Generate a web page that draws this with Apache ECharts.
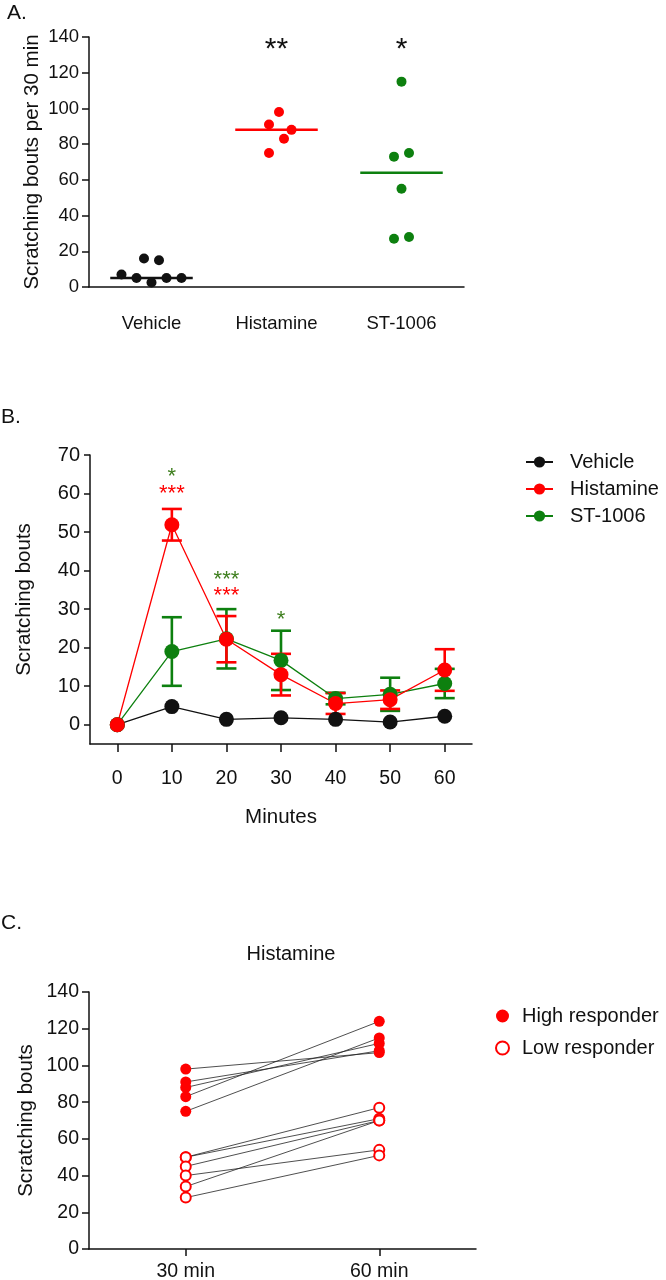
<!DOCTYPE html>
<html><head><meta charset="utf-8">
<script src="https://cdn.jsdelivr.net/npm/echarts@6/dist/echarts.min.js"></script>
<style>html,body{margin:0;padding:0;background:#fff}#c{width:666px;height:1280px}</style>
</head><body><div id="c"></div>
<script>
// ---------- Panel A ----------
const groupsA = ['Vehicle', 'Histamine', 'ST-1006'];
const vehicleA = [7, 5, 16, 2.5, 15, 5, 5];
const vehicleAJitter = [-0.24, -0.12, -0.06, 0, 0.06, 0.12, 0.24];
const histamineA = [98, 91, 88, 83, 75];
const histamineAJitter = [0.02, -0.06, 0.12, 0.06, -0.06];
const st1006A = [115, 73, 75, 55, 27, 28];
const st1006AJitter = [0, -0.06, 0.06, 0, -0.06, 0.06];
const mediansA = [5, 88, 64];
const starsA = ['', '**', '*'];
const starsAY = [0, 137, 137];
const ticksA = [0, 20, 40, 60, 80, 100, 120, 140];

// ---------- Panel B ----------
const minutesB = [0, 10, 20, 30, 40, 50, 60];
const vehicleB = [0, 4.7, 1.4, 1.8, 1.4, 0.7, 2.2];
const histamineB = [0, 51.9, 22.2, 13.0, 5.5, 6.5, 14.2];
const histamineBErr = [0, 4.1, 6.0, 5.4, 2.7, 2.4, 5.4];
const st1006B = [0, 19.0, 22.3, 16.7, 6.8, 7.9, 10.7];
const st1006BErr = [0, 8.9, 7.7, 7.7, 1.5, 4.3, 3.8];
const ticksBY = [0, 10, 20, 30, 40, 50, 60, 70];
const starsBX = [10, 10, 20, 20, 30];
const starsBY = [65.6, 61.2, 38.8, 34.6, 28.6];
const starsBText = ['*', '***', '***', '***', '*'];
const starsBGroup = ['ST-1006', 'Histamine', 'ST-1006', 'Histamine', 'ST-1006'];

// ---------- Panel C ----------
const timesC = ['30 min', '60 min'];
const high30 = [98, 91, 88, 83, 75];
const high60 = [107, 108, 112, 124, 115];
const low30 = [50, 50, 45, 40, 34, 28];
const low60 = [77, 71, 70, 54, 70, 51];
const ticksC = [0, 20, 40, 60, 80, 100, 120, 140];

const FONT = '"Liberation Sans", Arial, Helvetica, sans-serif';
const BLACK = '#111111';
const RED = '#ff0000';
const GREEN = '#0d800f';
const STARGREEN = '#3f7f1f';
const colorOf = { 'Vehicle': BLACK, 'Histamine': RED, 'ST-1006': GREEN };
const starColorOf = { 'Vehicle': BLACK, 'Histamine': RED, 'ST-1006': STARGREEN };

const axisLine = { show: true, onZero: false, lineStyle: { color: BLACK, width: 1.5 } };
const tickStyle = { color: BLACK, width: 1.5 };

function errRender(params, api) {
  const x = api.value(0), y = api.value(1), e = api.value(2);
  if (!e) return null;
  const top = api.coord([x, y + e]);
  const bot = api.coord([x, y - e]);
  const w = 10;
  const style = { stroke: api.visual('color'), lineWidth: 2.6 };
  return {
    type: 'group',
    children: [
      { type: 'line', shape: { x1: top[0], y1: top[1], x2: bot[0], y2: bot[1] }, style },
      { type: 'line', shape: { x1: top[0] - w, y1: top[1], x2: top[0] + w, y2: top[1] }, style },
      { type: 'line', shape: { x1: bot[0] - w, y1: bot[1], x2: bot[0] + w, y2: bot[1] }, style }
    ]
  };
}

const series = [];

// Panel A points
const aSets = [[vehicleA, vehicleAJitter], [histamineA, histamineAJitter], [st1006A, st1006AJitter]];
aSets.forEach(([vals, jit], gi) => {
  const name = groupsA[gi];
  series.push({
    type: 'scatter', name: name + ' A', xAxisIndex: 0, yAxisIndex: 0,
    symbol: 'circle', symbolSize: 10, z: 3,
    itemStyle: { color: colorOf[name], opacity: 1 },
    data: vals.map((v, i) => [gi + jit[i], v])
  });
  series.push({
    type: 'line', name: name + ' median', xAxisIndex: 0, yAxisIndex: 0,
    symbol: 'none', z: 2, lineStyle: { color: colorOf[name], width: 2.5 },
    data: [[gi - 0.33, mediansA[gi]], [gi + 0.33, mediansA[gi]]]
  });
});
series.push({
  type: 'scatter', name: 'starsA', xAxisIndex: 0, yAxisIndex: 0,
  symbolSize: 1, itemStyle: { color: 'rgba(0,0,0,0)', opacity: 1 },
  label: { show: true, position: 'inside', offset: [0, 7], fontFamily: FONT, fontSize: 30, color: BLACK,
    opacity: 1, formatter: p => p.value[2] },
  data: starsA.map((s, i) => [i, starsAY[i], s]).filter(d => d[2])
});

// Panel B
const bGroups = [['Vehicle', vehicleB, null], ['ST-1006', st1006B, st1006BErr], ['Histamine', histamineB, histamineBErr]];
bGroups.forEach(([name, vals, err]) => {
  if (err) {
    series.push({
      type: 'custom', name: name + ' SEM', xAxisIndex: 1, yAxisIndex: 1,
      renderItem: errRender, itemStyle: { color: colorOf[name] }, z: 3,
      data: minutesB.map((m, i) => [m, vals[i], err[i]])
    });
  }
  series.push({
    type: 'line', name: name, xAxisIndex: 1, yAxisIndex: 1,
    symbol: 'circle', symbolSize: 15, z: 4,
    itemStyle: { color: colorOf[name], opacity: 1 },
    lineStyle: { color: colorOf[name], width: 1.3 },
    data: minutesB.map((m, i) => [m, vals[i]])
  });
});
series.push({
  type: 'scatter', name: 'starsB', xAxisIndex: 1, yAxisIndex: 1,
  symbolSize: 1, itemStyle: { color: 'rgba(0,0,0,0)', opacity: 1 }, z: 6,
  label: { show: true, position: 'inside', offset: [0, 5], fontFamily: FONT, fontSize: 22, opacity: 1,
    formatter: p => p.value[2] },
  data: starsBX.map((x, i) => ({ value: [x, starsBY[i], starsBText[i]],
    label: { color: starColorOf[starsBGroup[i]] } }))
});

// Panel C
high30.forEach((v, i) => {
  series.push({ type: 'line', name: 'pairH' + i, xAxisIndex: 2, yAxisIndex: 2, symbol: 'none', silent: true, z: 1,
    lineStyle: { color: '#222', width: 0.8 }, data: [v, high60[i]] });
});
low30.forEach((v, i) => {
  series.push({ type: 'line', name: 'pairL' + i, xAxisIndex: 2, yAxisIndex: 2, symbol: 'none', silent: true, z: 1,
    lineStyle: { color: '#222', width: 0.8 }, data: [v, low60[i]] });
});
series.push({
  type: 'scatter', name: 'High responder', xAxisIndex: 2, yAxisIndex: 2,
  symbol: 'circle', symbolSize: 11, z: 3, itemStyle: { color: RED, opacity: 1 },
  data: high30.map(v => [0, v]).concat(high60.map(v => [1, v]))
});
series.push({
  type: 'scatter', name: 'Low responder', xAxisIndex: 2, yAxisIndex: 2,
  symbol: 'emptyCircle', symbolSize: 10, z: 3,
  itemStyle: { color: RED, borderColor: RED, borderWidth: 2.5, opacity: 1 },
  data: low30.map(v => [0, v]).concat(low60.map(v => [1, v]))
});

const titleStyle = { fontFamily: FONT, fontSize: 21, fontWeight: 'normal', color: BLACK };
const option = {
  backgroundColor: '#fff',
  animation: false,
  textStyle: { fontFamily: FONT, color: BLACK },
  title: [
    { text: 'A.', left: 7, top: 3, padding: 0, textStyle: titleStyle },
    { text: 'B.', left: 1, top: 407, padding: 0, textStyle: titleStyle },
    { text: 'C.', left: 1, top: 913, padding: 0, textStyle: titleStyle },
    { text: 'Histamine', left: 291, top: 944, padding: 0, textAlign: 'center',
      textStyle: { fontFamily: FONT, fontSize: 20, fontWeight: 'normal', color: BLACK } }
  ],
  legend: [
    {
      left: 525, top: 452, padding: 0, orient: 'vertical', itemWidth: 27, itemHeight: 14, itemGap: 7,
      data: ['Vehicle', 'Histamine', 'ST-1006'],
      textStyle: { fontFamily: FONT, fontSize: 20, color: BLACK, padding: [0, 0, 0, 12] }
    },
    {
      left: 495, top: 1006, padding: 0, orient: 'vertical', itemWidth: 13, itemHeight: 13, itemGap: 12,
      data: ['High responder', 'Low responder'],
      textStyle: { fontFamily: FONT, fontSize: 20, color: BLACK, padding: [0, 0, 0, 8] }
    }
  ],
  grid: [
    { left: 89, top: 37, width: 375, height: 250, outerBoundsMode: 'none' },
    { left: 90, top: 455, width: 382, height: 289, outerBoundsMode: 'none' },
    { left: 89, top: 992, width: 387, height: 257, outerBoundsMode: 'none' }
  ],
  xAxis: [
    {
      gridIndex: 0, type: 'value', min: -0.5, max: 2.5,
      axisLine, axisTick: { show: false }, splitLine: { show: false },
      axisLabel: { customValues: [0, 1, 2], formatter: v => groupsA[Math.round(v)], margin: 27,
        fontFamily: FONT, fontSize: 18.5, color: BLACK }
    },
    {
      gridIndex: 1, type: 'value', min: -5, max: 65,
      axisLine, splitLine: { show: false },
      axisTick: { show: true, customValues: minutesB, length: 8, lineStyle: tickStyle },
      axisLabel: { customValues: minutesB, margin: 25, fontFamily: FONT, fontSize: 19.5, color: BLACK },
      name: 'Minutes', nameLocation: 'middle', nameGap: 63, nameMoveOverlap: false,
      nameTextStyle: { fontFamily: FONT, fontSize: 20.5, color: BLACK, verticalAlign: 'top' }
    },
    {
      gridIndex: 2, type: 'category', data: timesC, boundaryGap: true,
      axisLine, splitLine: { show: false },
      axisTick: { show: true, alignWithLabel: true, length: 7, lineStyle: tickStyle },
      axisLabel: { margin: 13, fontFamily: FONT, fontSize: 19.5, color: BLACK }
    }
  ],
  yAxis: [
    {
      gridIndex: 0, type: 'value', min: 0, max: 140, interval: 20,
      axisLine, splitLine: { show: false },
      axisTick: { show: true, length: 7, lineStyle: tickStyle },
      axisLabel: { margin: 10, fontFamily: FONT, fontSize: 18.5, color: BLACK },
      name: 'Scratching bouts per 30 min', nameLocation: 'middle', nameGap: 46, nameMoveOverlap: false,
      nameTextStyle: { fontFamily: FONT, fontSize: 20.5, color: BLACK }
    },
    {
      gridIndex: 1, type: 'value', min: -5, max: 70,
      axisLine, splitLine: { show: false },
      axisTick: { show: true, customValues: ticksBY, length: 6, lineStyle: tickStyle },
      axisLabel: { customValues: ticksBY, margin: 10, fontFamily: FONT, fontSize: 20, color: BLACK },
      name: 'Scratching bouts', nameLocation: 'middle', nameGap: 55, nameMoveOverlap: false,
      nameTextStyle: { fontFamily: FONT, fontSize: 20.5, color: BLACK }
    },
    {
      gridIndex: 2, type: 'value', min: 0, max: 140, interval: 20,
      axisLine, splitLine: { show: false },
      axisTick: { show: true, length: 7, lineStyle: tickStyle },
      axisLabel: { margin: 10, fontFamily: FONT, fontSize: 19.5, color: BLACK },
      name: 'Scratching bouts', nameLocation: 'middle', nameGap: 52, nameMoveOverlap: false,
      nameTextStyle: { fontFamily: FONT, fontSize: 20.5, color: BLACK }
    }
  ],
  series
};

const chart = echarts.init(document.getElementById('c'), null, { renderer: 'canvas' });
chart.setOption(option);
</script>
</body></html>
